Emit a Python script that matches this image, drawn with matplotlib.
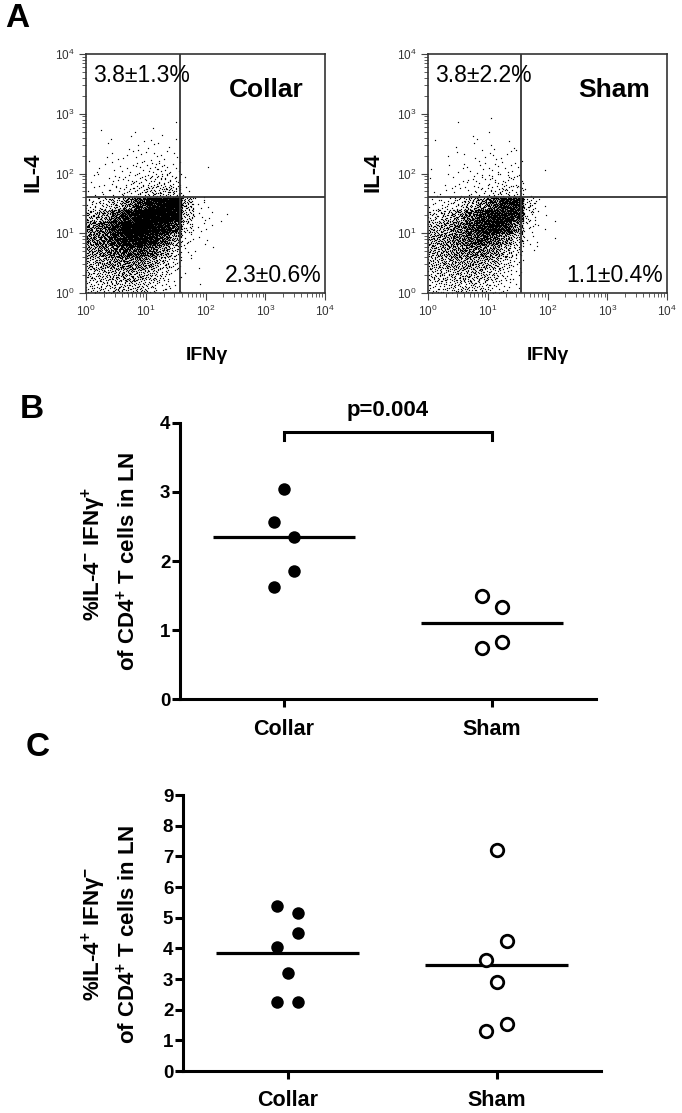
import numpy as np
import matplotlib
matplotlib.use("Agg")
import matplotlib.pyplot as plt
from matplotlib.ticker import FixedLocator, FixedFormatter, NullFormatter

plt.rcParams['font.family'] = ['Liberation Sans', 'DejaVu Sans']
plt.rcParams['mathtext.fontset'] = 'custom'
plt.rcParams['mathtext.rm'] = 'Liberation Sans'
plt.rcParams['mathtext.it'] = 'Liberation Sans:italic'
plt.rcParams['mathtext.bf'] = 'Liberation Sans:bold'
plt.rcParams['mathtext.sf'] = 'Liberation Sans'

# ---- Panel A: flow cytometry density, counts per 0.2-decade cell
# columns: log10(IFNg) from 0.0 to 2.4, rows: log10(IL-4) from 3.0 (top) down to 0.0
X_BIN_LEFT = [0.0, 0.2, 0.4, 0.6, 0.8, 1.0, 1.2, 1.4, 1.6, 1.8, 2.0, 2.2]
Y_BIN_BOTTOM = [2.8, 2.6, 2.4, 2.2, 2.0, 1.8, 1.6, 1.4, 1.2, 1.0, 0.8, 0.6, 0.4, 0.2, 0.0]
BIN_WIDTH = 0.2

collar_counts = [
    [0, 0, 0, 0, 0, 0, 0, 1, 0, 0, 0, 0],
    [0, 1, 0, 1, 1, 1, 1, 0, 0, 0, 0, 0],
    [0, 1, 1, 1, 2, 3, 2, 1, 0, 0, 0, 0],
    [1, 1, 2, 3, 4, 4, 4, 2, 0, 0, 0, 0],
    [1, 2, 3, 4, 6, 8, 8, 5, 0, 0, 1, 0],
    [2, 3, 5, 8, 11, 14, 15, 11, 1, 0, 0, 0],
    [3, 5, 8, 12, 18, 25, 30, 28, 3, 1, 0, 0],
    [12, 20, 35, 70, 130, 220, 320, 320, 40, 5, 1, 0],
    [40, 60, 110, 200, 300, 350, 340, 250, 30, 4, 2, 1],
    [75, 100, 170, 270, 330, 320, 230, 120, 18, 3, 2, 1],
    [75, 95, 145, 215, 250, 200, 120, 55, 8, 2, 1, 0],
    [55, 70, 100, 130, 135, 105, 60, 25, 3, 1, 1, 0],
    [40, 50, 65, 80, 75, 55, 30, 12, 1, 1, 0, 0],
    [28, 34, 42, 50, 45, 32, 16, 6, 1, 0, 0, 0],
    [20, 24, 30, 32, 28, 18, 9, 3, 0, 1, 0, 0],
]
sham_counts = [
    [0, 0, 1, 0, 0, 1, 0, 0, 0, 0, 0, 0],
    [0, 0, 0, 1, 0, 1, 0, 0, 0, 0, 0, 0],
    [1, 0, 1, 1, 1, 2, 1, 1, 0, 0, 0, 0],
    [0, 1, 1, 2, 3, 3, 3, 2, 0, 0, 0, 0],
    [1, 1, 2, 3, 4, 5, 4, 3, 0, 1, 0, 0],
    [1, 2, 3, 4, 6, 9, 9, 7, 0, 0, 0, 0],
    [2, 3, 4, 6, 9, 14, 18, 15, 2, 0, 0, 0],
    [6, 10, 18, 35, 65, 110, 170, 170, 20, 2, 0, 0],
    [22, 35, 55, 95, 150, 210, 220, 150, 14, 2, 0, 0],
    [40, 55, 85, 130, 180, 200, 150, 70, 8, 2, 1, 0],
    [50, 60, 85, 115, 130, 110, 70, 30, 4, 1, 1, 0],
    [45, 55, 68, 82, 82, 65, 38, 14, 1, 1, 0, 0],
    [35, 44, 52, 56, 52, 40, 20, 7, 0, 0, 0, 0],
    [25, 30, 36, 38, 34, 25, 12, 4, 0, 0, 0, 0],
    [16, 20, 25, 26, 22, 14, 7, 2, 0, 0, 0, 0],
]
facs_names = ["Collar", "Sham"]
gate_ifng = [37.5, 36.0]
gate_il4 = [40.5, 40.5]
upper_left_pct = ["3.8\u00b11.3%", "3.8\u00b12.2%"]
lower_right_pct = ["2.3\u00b10.6%", "1.1\u00b10.4%"]

# ---- Panel B: % IL-4- IFNg+ of CD4+ T cells
groups = ["Collar", "Sham"]
b_collar = [3.04, 2.57, 2.35, 1.86, 1.63]
b_sham = [1.49, 1.34, 0.83, 0.74]
b_means = [2.35, 1.10]
p_text = "p=0.004"

# ---- Panel C: % IL-4+ IFNg- of CD4+ T cells
c_collar = [5.38, 5.14, 4.51, 4.03, 3.18, 2.25, 2.25]
c_sham = [7.20, 4.24, 3.62, 2.89, 1.53, 1.30]
c_means = [3.84, 3.46]

# horizontal spread of the dots inside a column (as drawn by the plotting program)
b_collar_off = [0.0, -0.05, 0.05, 0.05, -0.05]
b_sham_off = [-0.05, 0.05, 0.05, -0.05]
c_collar_off = [-0.05, 0.05, 0.05, -0.05, 0.0, -0.05, 0.05]
c_sham_off = [0.0, 0.05, -0.05, 0.0, 0.05, -0.05]

W, H = 682, 1113
fig = plt.figure(figsize=(W / 100, H / 100), dpi=100)


def fbox(left, top, right, bottom):
    return [left / W, 1 - bottom / H, (right - left) / W, (bottom - top) / H]


def halton(index, base):
    result = np.zeros(len(index))
    f = 1.0
    i = np.array(index)
    while np.any(i > 0):
        f /= base
        result += f * (i % base)
        i = i // base
    return result


def cloud(counts):
    xs, ys = [], []
    k = 1
    for r, yb in enumerate(Y_BIN_BOTTOM):
        for c, xl in enumerate(X_BIN_LEFT):
            n = counts[r][c]
            if n == 0:
                continue
            idx = np.arange(k, k + n)
            k += n
            xs.append(10 ** (xl + halton(idx, 2) * BIN_WIDTH))
            ys.append(10 ** (yb + halton(idx, 3) * BIN_WIDTH))
    return np.concatenate(xs), np.concatenate(ys)


# ---------------- Panel A ----------------
decades = [1, 10, 100, 1000, 10000]
dec_labels = [r'$10^{%d}$' % i for i in range(5)]
minor = [m * d for d in [1, 10, 100, 1000] for m in range(2, 10)]
a_boxes = [fbox(86, 54, 325, 293), fbox(428, 54, 667, 293)]
for i, counts in enumerate([collar_counts, sham_counts]):
    ax = fig.add_axes(a_boxes[i])
    x, y = cloud(counts)
    ax.plot(x, y, 's', ms=0.85, mew=0, color='black')
    ax.set_xscale('log')
    ax.set_yscale('log')
    ax.set_xlim(1, 1e4)
    ax.set_ylim(1, 1e4)
    for axis in [ax.xaxis, ax.yaxis]:
        axis.set_major_locator(FixedLocator(decades))
        axis.set_major_formatter(FixedFormatter(dec_labels))
        axis.set_minor_locator(FixedLocator(minor))
        axis.set_minor_formatter(NullFormatter())
    ax.tick_params(which='major', direction='out', length=5, width=0.8,
                   color='#444444', labelsize=8.5, labelcolor='#333333', pad=3)
    ax.tick_params(which='minor', direction='out', length=3, width=0.6, color='#444444')
    for s in ax.spines.values():
        s.set_linewidth(1.2)
        s.set_color('#333333')
    ax.axvline(gate_ifng[i], color='#333333', lw=1.3)
    ax.axhline(gate_il4[i], color='#333333', lw=1.3)
    ax.text(0.03, 0.912, upper_left_pct[i], transform=ax.transAxes, ha='left',
            va='center', fontsize=16.5)
    ax.text(0.985, 0.075, lower_right_pct[i], transform=ax.transAxes, ha='right',
            va='center', fontsize=16.5)
    ax.text(0.91 if i == 0 else 0.93, 0.849, facs_names[i], transform=ax.transAxes,
            ha='right', va='center', fontsize=19, fontweight='bold')

fig.text(33 / W, 1 - 172 / H, 'IL-4', rotation=90, ha='center', va='center',
         fontsize=16, fontweight='bold')
fig.text(373 / W, 1 - 172 / H, 'IL-4', rotation=90, ha='center', va='center',
         fontsize=16, fontweight='bold')
fig.text(207 / W, 1 - 355 / H, 'IFN\u03b3', ha='center', va='center',
         fontsize=14, fontweight='bold')
fig.text(548 / W, 1 - 355 / H, 'IFN\u03b3', ha='center', va='center',
         fontsize=14, fontweight='bold')


# ---------------- Panels B and C ----------------
def dot_panel(ax, collar, collar_off, sham, sham_off, means, ymax):
    ax.plot(np.array(collar_off) + 1, collar, 'o', ms=9, mfc='black', mec='black',
            mew=0, clip_on=False, zorder=3)
    ax.plot(np.array(sham_off) + 2, sham, 'o', ms=9, mfc='white', mec='black',
            mew=2, clip_on=False, zorder=3)
    for j, m in enumerate(means):
        ax.plot([j + 1 - 0.34, j + 1 + 0.34], [m, m], color='black', lw=2.3,
                solid_capstyle='butt')
    ax.set_xlim(0.5, 2.5)
    ax.set_ylim(0, ymax)
    ax.set_xticks([1, 2])
    ax.set_xticklabels(groups, fontsize=15.5, fontweight='bold')
    ax.set_yticks(range(ymax + 1))
    ax.set_yticklabels([str(v) for v in range(ymax + 1)], fontsize=13.5,
                       fontweight='bold')
    ax.tick_params(axis='x', direction='out', length=6, width=2.2, pad=8)
    ax.tick_params(axis='y', direction='out', length=6, width=2.2, pad=1)
    for s in ['top', 'right']:
        ax.spines[s].set_visible(False)
    for s in ['left', 'bottom']:
        ax.spines[s].set_linewidth(2.2)


axB = fig.add_axes(fbox(180, 422.7, 596, 699.3))
dot_panel(axB, b_collar, b_collar_off, b_sham, b_sham_off, b_means, 4)
axB.plot([1, 1, 2, 2], [3.75, 3.87, 3.87, 3.75], color='black', lw=2.2,
         clip_on=False, solid_joinstyle='miter')
axB.text(1.5, 4.09, p_text, ha='center', va='baseline', fontsize=16,
         fontweight='bold', clip_on=False)

axC = fig.add_axes(fbox(183, 795, 601, 1071))
dot_panel(axC, c_collar, c_collar_off, c_sham, c_sham_off, c_means, 9)

gamma = '\u03b3'
fig.text(94 / W, 1 - 554 / H, r'%IL-4$^{\mathbf{-}}$ IFN' + gamma + r'$^{\mathbf{+}}$',
         rotation=90, ha='center', va='center', fontsize=16, fontweight='bold')
fig.text(128 / W, 1 - 561 / H, r'of CD4$^{\mathbf{+}}$ T cells in LN', rotation=90,
         ha='center', va='center', fontsize=16, fontweight='bold')
fig.text(94 / W, 1 - 934 / H, r'%IL-4$^{\mathbf{+}}$ IFN' + gamma + r'$^{\mathbf{-}}$',
         rotation=90, ha='center', va='center', fontsize=16, fontweight='bold')
fig.text(128 / W, 1 - 934 / H, r'of CD4$^{\mathbf{+}}$ T cells in LN', rotation=90,
         ha='center', va='center', fontsize=16, fontweight='bold')

# panel letters
fig.text(5 / W, 1 - 18.5 / H, 'A', ha='left', va='center', fontsize=24, fontweight='bold')
fig.text(20 / W, 1 - 410 / H, 'B', ha='left', va='center', fontsize=24, fontweight='bold')
fig.text(26 / W, 1 - 748 / H, 'C', ha='left', va='center', fontsize=24, fontweight='bold')

fig.savefig('out.png', dpi=100, facecolor='white')
